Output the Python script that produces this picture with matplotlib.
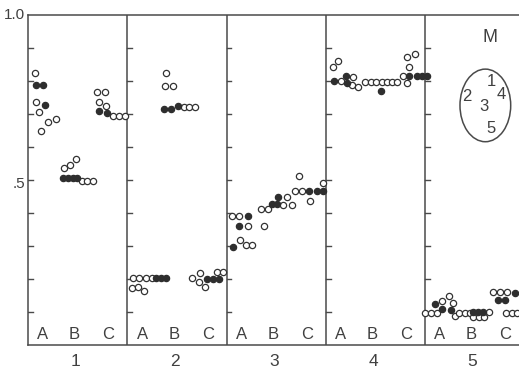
import matplotlib
matplotlib.use("Agg")
import matplotlib.pyplot as plt
from matplotlib.patches import Ellipse

# ---- data: (position within panel 0..1, value) ----
p1_open = [(0.068, .825), (0.078, .737), (0.111, .706), (0.128, .648), (0.205, .675), (0.279, .685),
           (0.366, .537), (0.426, .546), (0.487, .565), (0.541, .497), (0.597, .497), (0.652, .497),
           (0.692, .766), (0.773, .766), (0.718, .735), (0.786, .724), (0.859, .695), (0.920, .695), (0.977, .695)]
p1_fill = [(0.081, .787), (0.154, .787), (0.174, .726),
           (0.356, .505), (0.406, .505), (0.456, .505), (0.497, .505),
           (0.712, .709), (0.799, .703)]

p2_open = [(0.055, .202), (0.118, .202), (0.186, .202), (0.246, .202), (0.045, .172), (0.105, .177), (0.169, .165),
           (0.390, .825), (0.380, .785), (0.458, .785), (0.572, .722), (0.625, .722), (0.683, .722),
           (0.649, .202), (0.733, .219), (0.723, .192), (0.783, .175), (0.901, .222), (0.968, .222)]
p2_fill = [(0.373, .715), (0.441, .715), (0.514, .724), (0.290, .202), (0.340, .202), (0.390, .202),
           (0.800, .200), (0.861, .200), (0.924, .200)]

p3_open = [(0.052, .391), (0.129, .391), (0.214, .361), (0.136, .318), (0.193, .303), (0.260, .303),
           (0.348, .411), (0.421, .411), (0.381, .361), (0.572, .424), (0.657, .424), (0.607, .447),
           (0.733, .512), (0.690, .468), (0.761, .468), (0.841, .436), (0.975, .490)]
p3_fill = [(0.214, .391), (0.129, .361), (0.062, .298),
           (0.522, .449), (0.455, .427), (0.506, .427),
           (0.834, .468), (0.909, .468), (0.975, .468)]

p4_open = [(0.070, .843), (0.126, .862), (0.151, .801), (0.278, .811), (0.261, .788), (0.328, .781),
           (0.395, .798), (0.453, .798), (0.506, .798), (0.564, .798), (0.614, .798), (0.667, .798), (0.721, .798),
           (0.781, .815), (0.816, .795), (0.839, .843), (0.822, .872), (0.899, .881)]
p4_fill = [(0.083, .801), (0.204, .815), (0.211, .795), (0.554, .771),
           (0.842, .815), (0.916, .815), (0.967, .815), (1.017, .815)]

p5_open = [(0.000, .096), (0.057, .096), (0.118, .096), (0.168, .134), (0.245, .148), (0.279, .128),
           (0.302, .088), (0.346, .096), (0.403, .096),
           (0.453, .096), (0.487, .084), (0.547, .084), (0.597, .084), (0.648, .101),
           (0.688, .162), (0.756, .162), (0.829, .162), (0.816, .096), (0.874, .096), (0.930, .096)]
p5_fill = [(0.101, .124), (0.168, .108), (0.259, .106),
           (0.481, .101), (0.537, .101), (0.587, .101),
           (0.907, .157), (0.739, .136), (0.806, .136)]

open_pts = [p1_open, p2_open, p3_open, p4_open, p5_open]
fill_pts = [p1_fill, p2_fill, p3_fill, p4_fill, p5_fill]
panel_labels = ["1", "2", "3", "4", "5"]
group_labels = ["A", "B", "C"]
group_pos = [0.15, 0.47, 0.81]
inset_numbers = [("1", 4.672, 0.800), ("2", 4.420, 0.752), ("4", 4.773, 0.758),
                 ("3", 4.597, 0.722), ("5", 4.662, 0.657)]

LINE = "#4a4a4a"
TXT = "#404040"
FONT = "Liberation Sans"

fig = plt.figure(figsize=(5.19, 3.72), dpi=100)
ax = fig.add_axes([28 / 519, 1 - 345 / 372, (519 - 28) / 519, 330 / 372])
ax.set_xlim(0, (519 - 28) / 99.25)
ax.set_ylim(0, 1)
for s in ["left", "top", "bottom"]:
    ax.spines[s].set_color(LINE)
    ax.spines[s].set_linewidth(1.1)
ax.spines["right"].set_visible(False)
ax.set_xticks([])
ax.set_yticks([])

# panel dividers and inward ticks
for k in range(5):
    if k > 0:
        ax.axvline(k, color=LINE, lw=1.1, zorder=1)
    for t in range(1, 10):
        ax.plot([k, k + 0.05], [t / 10, t / 10], color=LINE, lw=1.0, zorder=1)

# points
for k in range(5):
    xs = [k + p for p, v in open_pts[k]]
    ys = [v for p, v in open_pts[k]]
    ax.plot(xs, ys, "o", ms=4.5, mfc="white", mec="#333333", mew=0.9, ls="none", zorder=3, clip_on=False)
    xs = [k + p for p, v in fill_pts[k]]
    ys = [v for p, v in fill_pts[k]]
    ax.plot(xs, ys, "o", ms=4.5, mfc="#2e2e2e", mec="#2e2e2e", mew=0.9, ls="none", zorder=4, clip_on=False)
    for g, gp in zip(group_labels, group_pos):
        ax.text(k + gp, 0.032, g, ha="center", va="center", fontsize=12, color=TXT, family=FONT)
    ax.text(k + 0.48, -0.05, panel_labels[k], ha="center", va="center", fontsize=12.5,
            color=TXT, family=FONT, clip_on=False)

# y labels
ax.text(-0.03, 1.0, "1.0", ha="right", va="center", fontsize=11, color=TXT, family=FONT)
ax.text(-0.03, 0.487, ".5", ha="right", va="center", fontsize=11, color=TXT, family=FONT)

# inset map
ax.text(4.655, 0.931, "M", ha="center", va="center", fontsize=13, color=TXT, family=FONT)
ax.add_patch(Ellipse((4.608, 0.726), 0.511, 0.22, fill=False, ec=LINE, lw=1.1))
for s, x, y in inset_numbers:
    ax.text(x, y, s, ha="center", va="center", fontsize=12, color=TXT, family=FONT)

fig.savefig("out.png", dpi=100)
